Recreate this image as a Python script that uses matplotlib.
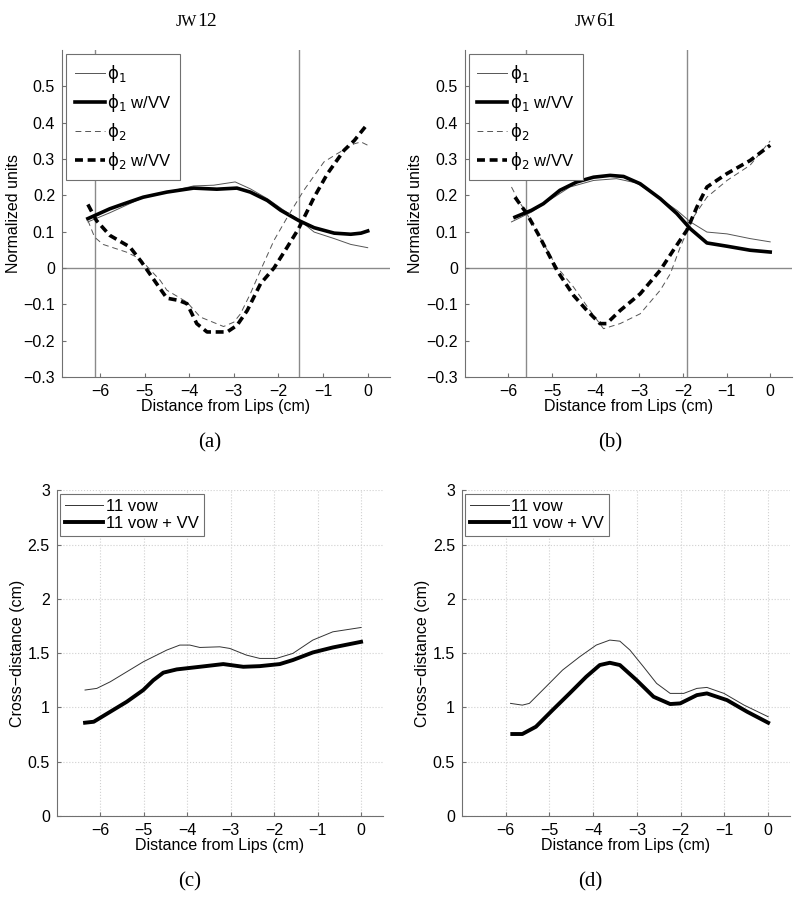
import numpy as np
import matplotlib
matplotlib.use("Agg")
import matplotlib.pyplot as plt

plt.rcParams['font.family'] = ['Liberation Sans', 'DejaVu Sans']
plt.rcParams['mathtext.fontset'] = 'dejavusans'

# ---- (a) JW12 : phi curves ----
a_x_p1 = [-6.27, -5.78, -5.03, -4.5, -3.9, -3.45, -2.97, -2.63, -2.25, -1.88, -1.55, -1.2, -0.75, -0.38, 0.0]
a_p1 = [0.127, 0.152, 0.194, 0.209, 0.226, 0.228, 0.237, 0.218, 0.191, 0.159, 0.134, 0.099, 0.081, 0.065, 0.056]
a_x_p1vv = [-6.27, -5.78, -5.41, -5.03, -4.5, -3.9, -3.38, -2.93, -2.63, -2.25, -1.95, -1.55, -1.2, -0.75, -0.38, -0.15, 0.0]
a_p1vv = [0.136, 0.163, 0.179, 0.195, 0.209, 0.22, 0.217, 0.22, 0.209, 0.186, 0.159, 0.131, 0.111, 0.096, 0.093, 0.096, 0.102]
a_x_p2 = [-6.27, -6.12, -5.93, -5.41, -5.11, -4.65, -4.5, -4.05, -3.75, -3.23, -3.0, -2.85, -2.63, -2.4, -2.1, -1.8,
          -1.43, -0.98, -0.68, -0.3, -0.15, 0.0]
a_p2 = [0.131, 0.085, 0.065, 0.044, 0.026, -0.034, -0.061, -0.094, -0.135, -0.161, -0.149, -0.126, -0.071, -0.006,
        0.076, 0.14, 0.214, 0.292, 0.315, 0.342, 0.347, 0.338]
a_x_p2vv = [-6.27, -6.08, -5.78, -5.33, -5.07, -4.73, -4.5, -4.24, -4.05, -3.83, -3.6, -3.15, -2.93, -2.7, -2.4, -2.1,
            -1.8, -1.55, -1.2, -0.9, -0.53, -0.3, 0.0]
a_p2vv = [0.175, 0.131, 0.09, 0.058, 0.017, -0.043, -0.083, -0.089, -0.098, -0.153, -0.176, -0.176, -0.158, -0.117,
          -0.043, 0.0, 0.058, 0.108, 0.195, 0.26, 0.324, 0.351, 0.397]
a_vlines = [-6.12, -1.55]

# ---- (b) JW61 : phi curves ----
b_x_p1 = [-5.93, -5.47, -5.12, -4.59, -4.05, -3.52, -3.06, -2.52, -2.14, -1.83, -1.45, -0.99, -0.46, 0.0]
b_p1 = [0.127, 0.154, 0.182, 0.223, 0.241, 0.246, 0.234, 0.191, 0.159, 0.127, 0.099, 0.094, 0.081, 0.072]
b_x_p1vv = [-5.85, -5.47, -5.2, -4.82, -4.43, -4.05, -3.67, -3.36, -2.98, -2.52, -2.14, -1.83, -1.45, -0.99, -0.46, 0.0]
b_p1vv = [0.14, 0.159, 0.177, 0.214, 0.237, 0.25, 0.255, 0.252, 0.232, 0.191, 0.15, 0.108, 0.069, 0.06, 0.049, 0.044]
b_x_p2 = [-5.93, -5.77, -5.58, -5.28, -4.89, -4.51, -4.13, -3.82, -3.44, -2.98, -2.52, -2.29, -2.06, -1.76, -1.45,
          -0.99, -0.46, 0.0]
b_p2 = [0.223, 0.186, 0.15, 0.085, 0.003, -0.052, -0.117, -0.167, -0.153, -0.126, -0.061, -0.016, 0.058, 0.14,
        0.195, 0.241, 0.283, 0.35]
b_x_p2vv = [-5.85, -5.58, -5.28, -4.89, -4.51, -4.2, -3.9, -3.75, -3.44, -2.98, -2.52, -2.22, -1.91, -1.68, -1.45,
            -0.99, -0.46, 0.0]
b_p2vv = [0.195, 0.15, 0.085, -0.006, -0.075, -0.117, -0.153, -0.153, -0.117, -0.071, -0.006, 0.049, 0.104, 0.168,
          0.223, 0.26, 0.296, 0.338]
b_vlines = [-5.6, -1.9]

# ---- (c) JW12 : cross-distance ----
c_x_vow = [-6.35, -6.08, -5.77, -5.01, -4.47, -4.17, -3.94, -3.71, -3.25, -3.02, -2.64, -2.33, -1.95, -1.57, -1.11,
           -0.65, 0.0]
c_vow = [1.16, 1.175, 1.236, 1.42, 1.528, 1.574, 1.574, 1.552, 1.558, 1.543, 1.482, 1.451, 1.451, 1.497, 1.62,
         1.696, 1.736]
c_x_vv = [-6.35, -6.15, -5.77, -5.39, -5.01, -4.78, -4.55, -4.24, -3.71, -3.17, -2.71, -2.33, -1.87, -1.57, -1.11,
          -0.65, 0.0]
c_vv = [0.859, 0.868, 0.96, 1.052, 1.16, 1.25, 1.32, 1.35, 1.374, 1.399, 1.374, 1.38, 1.399, 1.436, 1.506, 1.552,
        1.604]

# ---- (d) JW61 : cross-distance ----
d_x_vow = [-5.89, -5.62, -5.46, -5.08, -4.7, -4.31, -3.93, -3.62, -3.39, -3.16, -2.85, -2.55, -2.24, -1.93, -1.63,
           -1.4, -1.01, -0.55, 0.0]
d_vow = [1.037, 1.021, 1.037, 1.19, 1.344, 1.466, 1.574, 1.62, 1.61, 1.528, 1.374, 1.221, 1.129, 1.129, 1.175,
         1.184, 1.129, 1.021, 0.914]
d_x_vv = [-5.85, -5.62, -5.31, -4.93, -4.54, -4.16, -3.85, -3.62, -3.39, -3.01, -2.62, -2.24, -2.01, -1.63, -1.4,
          -0.94, -0.48, 0.0]
d_vv = [0.755, 0.755, 0.822, 0.975, 1.129, 1.282, 1.39, 1.411, 1.39, 1.252, 1.098, 1.031, 1.037, 1.113, 1.129,
        1.067, 0.96, 0.859]

phi_labels = [r'$\mathrm{\phi}_1$', r'$\mathrm{\phi}_1$ w/VV', r'$\mathrm{\phi}_2$', r'$\mathrm{\phi}_2$ w/VV']
cd_labels = ['11 vow', '11 vow + VV']
x_ticks = [-6, -5, -4, -3, -2, -1, 0]

AX_GRAY = '#707070'
FS = 11.5


def style_axes(ax):
    for s in ['top', 'right']:
        ax.spines[s].set_visible(False)
    for s in ['left', 'bottom']:
        ax.spines[s].set_color(AX_GRAY)
        ax.spines[s].set_linewidth(0.8)
    ax.tick_params(direction='in', length=3, color=AX_GRAY, labelsize=FS, pad=5)
    ax.set_xticks(x_ticks)
    ax.set_xticklabels([str(t).replace('-', '\u2212') for t in x_ticks])
    ax.set_xlabel('Distance from Lips (cm)', fontsize=FS, labelpad=0)


def phi_plot(ax, xs, ys, vlines, xlim):
    ax.axhline(0, color='#8a8a8a', lw=1.0, zorder=1)
    for v in vlines:
        ax.axvline(v, color='#8a8a8a', lw=1.0, zorder=1)
    styles = [dict(color='#555555', lw=0.7, ls='-'),
              dict(color='black', lw=2.6, ls='-'),
              dict(color='#555555', lw=0.7, ls=(0, (6, 4))),
              dict(color='black', lw=2.6, ls=(0, (2.2, 1.3)))]
    for x, y, st, lab in zip(xs, ys, styles, phi_labels):
        ax.plot(x, y, label=lab, zorder=3, **st)
    ax.set_xlim(*xlim)
    ax.set_ylim(-0.3, 0.6)
    yt = [-0.3, -0.2, -0.1, 0, 0.1, 0.2, 0.3, 0.4, 0.5]
    ax.set_yticks(yt)
    ax.set_yticklabels([('%g' % t).replace('-', '\u2212') for t in yt])
    style_axes(ax)
    ax.set_ylabel('Normalized units', fontsize=FS, labelpad=2)
    leg = ax.legend(loc='upper left', fontsize=FS + 0.5, handlelength=1.8, handletextpad=0.15,
                    labelspacing=0.42, borderaxespad=0.25, fancybox=False, framealpha=1,
                    edgecolor=AX_GRAY, borderpad=0.5)
    leg.get_frame().set_linewidth(0.8)


def cd_plot(ax, xs, ys):
    styles = [dict(color='#333333', lw=0.7), dict(color='black', lw=2.8)]
    for x, y, st, lab in zip(xs, ys, styles, cd_labels):
        ax.plot(x, y, label=lab, zorder=3, **st)
    ax.set_xlim(-7, 0.5)
    ax.set_ylim(0, 3)
    yt = [0, 0.5, 1, 1.5, 2, 2.5, 3]
    ax.set_yticks(yt)
    ax.set_yticklabels(['%g' % t for t in yt])
    ax.grid(True, ls=':', color='#d0d0d0', lw=0.8)
    style_axes(ax)
    ax.set_ylabel('Cross\u2212distance (cm)', fontsize=FS, labelpad=2)
    leg = ax.legend(loc='upper left', fontsize=FS + 0.5, handlelength=2.3, handletextpad=0.15,
                    labelspacing=0.15, borderaxespad=0.2, fancybox=False, framealpha=1,
                    edgecolor=AX_GRAY, borderpad=0.3)
    leg.get_frame().set_linewidth(0.8)


fig = plt.figure(figsize=(8, 9.1), dpi=100)
ax_a = fig.add_axes([0.0775, 0.5857, 0.41, 0.3593])
ax_b = fig.add_axes([0.581, 0.5857, 0.409, 0.3593])
ax_c = fig.add_axes([0.071, 0.1033, 0.4075, 0.358])
ax_d = fig.add_axes([0.5775, 0.1033, 0.41, 0.358])

phi_plot(ax_a, [a_x_p1, a_x_p1vv, a_x_p2, a_x_p2vv], [a_p1, a_p1vv, a_p2, a_p2vv], a_vlines, (-6.85, 0.5))
phi_plot(ax_b, [b_x_p1, b_x_p1vv, b_x_p2, b_x_p2vv], [b_p1, b_p1vv, b_p2, b_p2vv], b_vlines, (-7, 0.5))
cd_plot(ax_c, [c_x_vow, c_x_vv], [c_vow, c_vv])
cd_plot(ax_d, [d_x_vow, d_x_vv], [d_vow, d_vv])

serif = ['Liberation Serif', 'DejaVu Serif']
for xc, num in [(197 / 800, '12'), (596 / 800, '61')]:
    fig.text(xc, 1 - 22 / 910, 'JW', family=serif, fontsize=11.5, ha='right', va='center')
    fig.text(xc, 1 - 22 / 910, num, family=serif, fontsize=14, ha='left', va='center')

for (px, py), lab in zip([(210, 443), (610, 443), (190, 882), (590, 882)], ['(a)', '(b)', '(c)', '(d)']):
    fig.text(px / 800, 1 - py / 910, lab, family=serif, fontsize=15, ha='center', va='center')

fig.savefig('out.png', dpi=100)
